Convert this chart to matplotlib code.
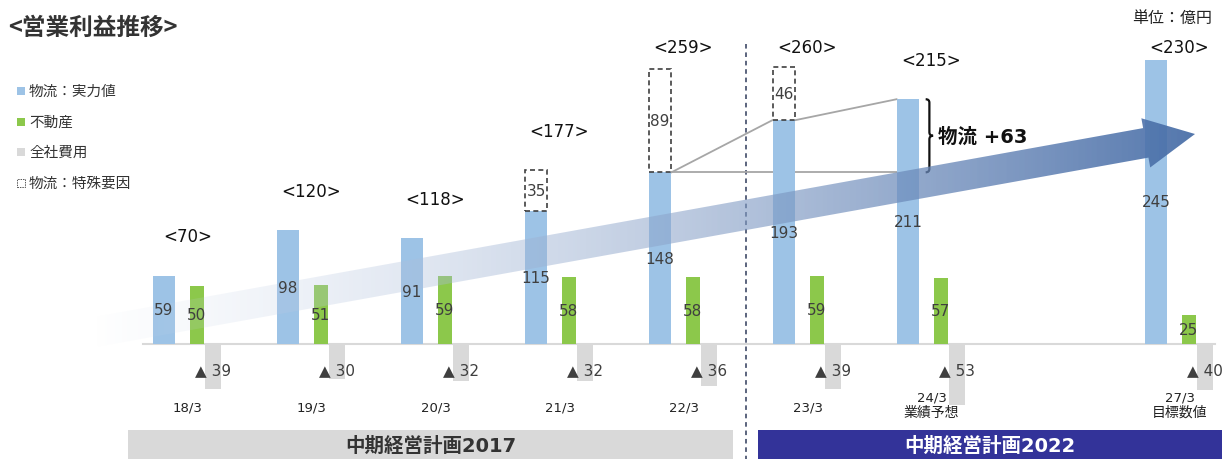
import numpy as np
import matplotlib
matplotlib.use('Agg')
import matplotlib.pyplot as plt
from matplotlib.patches import Rectangle, Polygon, PathPatch
from matplotlib.path import Path

plt.rcParams['font.family'] = ['DejaVu Sans', 'Noto Sans CJK JP']
JP = ['Noto Sans CJK JP', 'DejaVu Sans']

# ---------------- data ----------------
periods = ['18/3', '19/3', '20/3', '21/3', '22/3', '23/3', '24/3', '27/3']
period_notes = ['', '', '', '', '', '', '業績予想', '目標数値']
slots = np.array([0, 1, 2, 3, 4, 5, 6, 8])
logistics = [59, 98, 91, 115, 148, 193, 211, 245]
logistics_special = [0, 0, 0, 35, 89, 46, 0, 0]
real_estate = [50, 51, 59, 58, 58, 59, 57, 25]
corporate = [-39, -30, -32, -32, -36, -39, -53, -40]
totals = [70, 120, 118, 177, 259, 260, 215, 230]
legend_labels = ['物流：実力値', '不動産', '全社費用', '物流：特殊要因']
plan_labels = ['中期経営計画2017', '中期経営計画2022']
title = '<営業利益推移>'
unit_text = '単位：億円'

# ---------------- style ----------------
BLUE = '#9dc3e6'
GREEN = '#8cc84b'
GRAY = '#d9d9d9'
TXT = '#3f3f3f'
W, H = 1226, 460
PX_X0, PX_SLOT = 164.0, 124.0
PX_Y0, PX_UNIT = 345.0, 1.16

def px(x, y):
    return (x - PX_X0) / PX_SLOT, (PX_Y0 - y) / PX_UNIT

fig = plt.figure(figsize=(W / 100, H / 100), dpi=100)
ax = fig.add_axes([0, 0, 1, 1])
ax.axis('off')
xl = (px(0, 0)[0], px(W, 0)[0])
yl = (px(0, H)[1], px(0, 0)[1])

bw, gw, cw = 0.185, 0.12, 0.13
goff, coff = 0.266, 0.395

# baseline
ax.plot([px(143, 0)[0], px(1215, 0)[0]], [0, 0], color='#d9d9d9', lw=1.5, zorder=1)

ax.bar(slots, logistics, width=bw, color=BLUE, zorder=2)
ax.bar(slots + goff, real_estate, width=gw, color=GREEN, zorder=2)
ax.bar(slots + coff, corporate, width=cw, color=GRAY, zorder=2)
sp = np.array(logistics_special)
m = sp > 0
ax.bar(slots[m], sp[m], bottom=np.array(logistics)[m], width=bw, facecolor='white',
       edgecolor='#404040', linestyle=(0, (3, 2)), lw=1.2, zorder=2)

# connector lines
s4, s5, s6 = slots[4], slots[5], slots[6]
lc = '#a6a6a6'
ax.plot([s4 + bw / 2, s5 - bw / 2], [logistics[4], logistics[5]], color=lc, lw=1.3, zorder=1.5)
ax.plot([s5 + bw / 2, s6 - bw / 2], [logistics[5], logistics[6]], color=lc, lw=1.3, zorder=1.5)
ax.plot([s4 + bw / 2, s6 - bw / 2], [logistics[4], logistics[4]], color=lc, lw=1.3, zorder=1.5)

# brace
bx = s6 + bw / 2 + 0.05
y0, y1 = logistics[4], logistics[6]
ym = (y0 + y1) / 2
d = 0.03
verts = [(bx, y1), (bx + d, y1), (bx + d, y1 - 3), (bx + d, ym + 3), (bx + d, ym), (bx + 2 * d, ym),
         (bx + d, ym), (bx + d, ym - 3), (bx + d, y0 + 3), (bx + d, y0), (bx, y0)]
codes = [Path.MOVETO, Path.CURVE3, Path.CURVE3, Path.LINETO, Path.CURVE3, Path.CURVE3,
         Path.CURVE3, Path.CURVE3, Path.LINETO, Path.CURVE3, Path.CURVE3]
ax.add_patch(PathPatch(Path(verts, codes), fill=False, lw=1.6, color='#111111', zorder=3))
ax.text(bx + 2 * d + 0.04, ym, f'物流 +{logistics[6] - logistics[4]}', fontsize=14,
        fontweight='bold', color='#111111', va='center', ha='left', zorder=5)

# gradient arrow
T = np.array([95.0, 333.0]); P = np.array([1195.0, 135.0])
u = (P - T) / np.linalg.norm(P - T); n = np.array([-u[1], u[0]])
if n[1] < 0:
    n = -n
w, L, h = 15, 50, 25
B = P - u * L
pts_px = [T + n * w, B + n * w, B + n * h, P, B - n * h, B - n * w, T - n * w]
pts = [px(*p) for p in pts_px]
poly = Polygon(pts, closed=True, facecolor='none', edgecolor='none')
ax.add_patch(poly)
N = 400
t = np.linspace(0, 1, N)
c0 = np.array([0.82, 0.86, 0.93]); c1 = np.array([0.27, 0.42, 0.65])
tt = t ** 1.1
img = np.zeros((1, N, 4))
img[0, :, :3] = c0[None, :] * (1 - tt[:, None]) + c1[None, :] * tt[:, None]
img[0, :, 3] = 0.92 * np.clip(t, 0, 1) ** 0.75
im = ax.imshow(img, extent=(px(T[0], 0)[0], px(P[0], 0)[0], px(0, 360)[1], px(0, 100)[1]),
               aspect='auto', interpolation='bilinear', zorder=3)
im.set_clip_path(poly)

# value labels
for i, s in enumerate(slots):
    ax.text(s, logistics[i] / 2, str(logistics[i]), ha='center', va='center', fontsize=11,
            color=TXT, zorder=5)
    if logistics_special[i]:
        ax.text(s, logistics[i] + logistics_special[i] / 2, str(logistics_special[i]),
                ha='center', va='center', fontsize=11, color=TXT, zorder=5)
    ax.text(s + goff, real_estate[i] / 2, str(real_estate[i]), ha='center', va='center',
            fontsize=11, color=TXT, zorder=5)
    ax.text(s + coff, -22, f'▲ {abs(corporate[i])}', ha='center', va='center',
            fontsize=11, color=TXT, zorder=5)
    top = max(logistics[i] + logistics_special[i], real_estate[i])
    ax.text(s + 0.19, min(top + 34, 256), f'<{totals[i]}>', ha='center', va='center',
            fontsize=12, color='#111111', zorder=5)
    if period_notes[i]:
        ax.text(s + 0.19, -45.5, periods[i], ha='center', va='center', fontsize=9.5, color='#222222')
        ax.text(s + 0.19, -58.5, period_notes[i], ha='center', va='center', fontsize=10,
                color='#222222', family=JP)
    else:
        ax.text(s + 0.19, -54, periods[i], ha='center', va='center', fontsize=9.5, color='#222222')

# dividing line
vx = px(746, 0)[0]
ax.plot([vx, vx], [px(0, 45)[1], yl[0]], color='#2f3a5a', lw=1.1, ls=(0, (3, 2.5)), zorder=1)

# plan bands
bands = [((128, 733), '#d9d9d9', '#333333'), ((758, 1222), '#333399', 'white')]
for (xa, xb), fc, tc in bands:
    pa = px(xa, 460); pb = px(xb, 431)
    ax.add_patch(Rectangle((pa[0], pa[1]), pb[0] - pa[0], pb[1] - pa[1], facecolor=fc,
                           edgecolor='none', zorder=2))
for ((xa, xb), fc, tc), lab in zip(bands, plan_labels):
    ax.text((px(xa, 0)[0] + px(xb, 0)[0]) / 2, px(0, 446)[1], lab, ha='center', va='center',
            fontsize=14, fontweight='bold', color=tc, zorder=5)

# title & unit
tx, ty = px(8, 28)
ax.text(tx, ty, title, fontsize=17, fontweight='bold', color='#333333', ha='left', va='center',
        family=JP)
ux, uy = px(1212, 18)
ax.text(ux, uy, unit_text, fontsize=11.5, color='#222222', ha='right', va='center', family=JP)

# legend
leg_colors = [BLUE, GREEN, GRAY, None]
for k, (lab, col) in enumerate(zip(legend_labels, leg_colors)):
    yy = 92 + k * 30.5
    a = px(17, yy + 4); b = px(25, yy - 4)
    if col is None:
        ax.add_patch(Rectangle(a, b[0] - a[0], b[1] - a[1], facecolor='white', edgecolor='#555555',
                               lw=0.7, ls=(0, (1.5, 1))))
    else:
        ax.add_patch(Rectangle(a, b[0] - a[0], b[1] - a[1], facecolor=col, edgecolor='none'))
    lx, ly = px(29, yy)
    ax.text(lx, ly, lab, fontsize=10.5, color='#333333', ha='left', va='center', family=JP)

ax.set_xlim(*xl)
ax.set_ylim(*yl)
fig.savefig('out.png', dpi=100, facecolor='white')
